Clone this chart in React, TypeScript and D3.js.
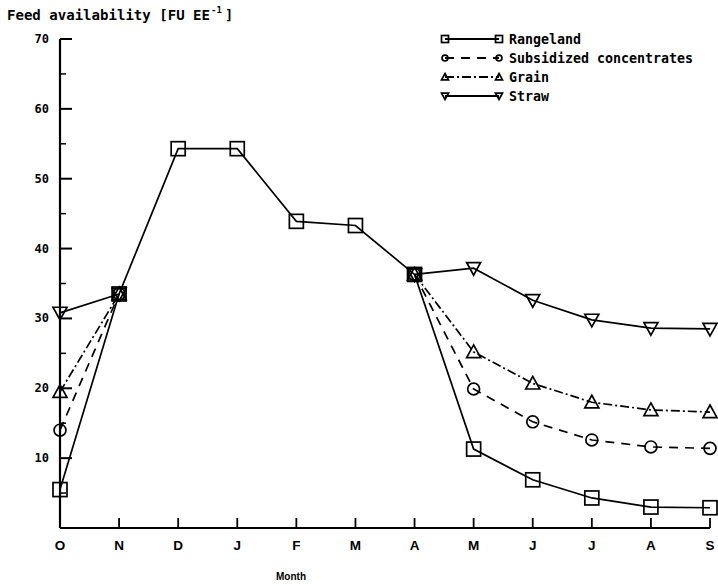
import * as d3 from "d3";

const months = ["O", "N", "D", "J", "F", "M", "A", "M", "J", "J", "A", "S"];
const yTicks = [10, 20, 30, 40, 50, 60, 70];
const yMinor = [5, 15, 25, 35, 45, 55, 65];

// null = no value drawn for that month
const rangeland = [5.5, 33.5, 54.3, 54.3, 43.9, 43.3, 36.3, 11.3, 6.9, 4.3, 3.0, 2.9];
const subsidized = [14.0, 33.5, null, null, null, null, 36.3, 19.9, 15.2, 12.6, 11.6, 11.4];
const grain = [19.5, 33.5, null, null, null, null, 36.3, 25.2, 20.7, 18.0, 16.9, 16.6];
const straw = [30.8, 33.5, null, null, null, null, 36.3, 37.2, 32.6, 29.8, 28.6, 28.5];

const seriesNames = ["Rangeland", "Subsidized concentrates", "Grain", "Straw"];
const seriesValues = [rangeland, subsidized, grain, straw];
const seriesDash = ["none", "9,7", "9,3,2,3", "none"];
const seriesMarker = ["square", "circle", "triangle", "triangleDown"];

const W = 718;
const H = 586;
const FONT = "'DejaVu Sans Mono', monospace";

function Marker({ type, x, y, s }: { type: string; x: number; y: number; s: number }) {
  const h = s / 2;
  const common = { fill: "none", stroke: "#000", strokeWidth: 1.7 };
  if (type === "square") return <rect x={x - h} y={y - h} width={s} height={s} {...common} />;
  if (type === "circle") return <circle cx={x} cy={y} r={h * 0.85} {...common} />;
  if (type === "triangle")
    return <path d={`M${x},${y - h}L${x + h},${y + h * 0.8}L${x - h},${y + h * 0.8}Z`} {...common} />;
  return <path d={`M${x},${y + h}L${x + h},${y - h * 0.8}L${x - h},${y - h * 0.8}Z`} {...common} />;
}

export default function App() {
  const x = d3.scaleLinear().domain([0, months.length - 1]).range([60, 710]);
  const y = d3.scaleLinear().domain([0, 70]).range([528, 39]);

  const line = d3
    .line<number | null>()
    .defined((d) => d !== null)
    .x((_, i) => x(i))
    .y((d) => y(d as number));

  return (
    <svg width={W} height={H} style={{ position: "absolute", left: 0, top: 0, background: "#fff" }}>
      {/* title */}
      <text x={7} y={20} fontFamily={FONT} fontWeight="bold" fontSize={13.5} textLength={203} lengthAdjust="spacingAndGlyphs">
        Feed availability [FU EE
      </text>
      <text x={211} y={13} fontFamily={FONT} fontWeight="bold" fontSize={9}>-1</text>
      <text x={225} y={20} fontFamily={FONT} fontWeight="bold" fontSize={13.5}>]</text>

      {/* axes */}
      <line x1={60} x2={60} y1={y(70)} y2={y(0)} stroke="#000" strokeWidth={2.2} />
      <line x1={60} x2={x(11)} y1={y(0)} y2={y(0)} stroke="#000" strokeWidth={2.2} />
      {yTicks.map((t) => (
        <g key={t}>
          <line x1={60} x2={72} y1={y(t)} y2={y(t)} stroke="#000" strokeWidth={2} />
          <text x={49} y={y(t) + 4} textAnchor="end" fontFamily={FONT} fontWeight="bold" fontSize={12}>
            {t}
          </text>
        </g>
      ))}
      {yMinor.map((t) => (
        <line key={t} x1={60} x2={66} y1={y(t)} y2={y(t)} stroke="#000" strokeWidth={1.5} />
      ))}
      {months.map((m, i) => (
        <g key={i}>
          {i > 0 && <line x1={x(i)} x2={x(i)} y1={y(0)} y2={y(0) - 10} stroke="#000" strokeWidth={1.8} />}
          <text x={x(i)} y={550} textAnchor="middle" fontFamily="'Liberation Sans', Arial, sans-serif" fontWeight="bold" fontSize={13.5}>
            {m}
          </text>
        </g>
      ))}
      <text x={291} y={580} textAnchor="middle" fontFamily="'Liberation Sans Narrow', 'Liberation Sans', sans-serif" fontWeight="bold" fontSize={10}>
        Month
      </text>

      {/* series */}
      {seriesValues.map((vals, si) => (
        <g key={si}>
          <path d={line(vals) || ""} fill="none" stroke="#000" strokeWidth={1.7} strokeDasharray={seriesDash[si]} />
          {vals.map((v, i) =>
            v === null ? null : <Marker key={i} type={seriesMarker[si]} x={x(i)} y={y(v)} s={14} />
          )}
        </g>
      ))}

      {/* legend */}
      {seriesNames.map((name, si) => {
        const ly = [39, 58, 77, 96][si];
        return (
          <g key={name}>
            <line x1={445} x2={499} y1={ly} y2={ly} stroke="#000" strokeWidth={1.8} strokeDasharray={seriesDash[si]} />
            <Marker type={seriesMarker[si]} x={445} y={ly} s={7} />
            <Marker type={seriesMarker[si]} x={499} y={ly} s={7} />
            <text x={509} y={ly + 4.5} fontFamily={FONT} fontWeight="bold" fontSize={13.5} textLength={name.length * 8} lengthAdjust="spacingAndGlyphs">
              {name}
            </text>
          </g>
        );
      })}
    </svg>
  );
}
